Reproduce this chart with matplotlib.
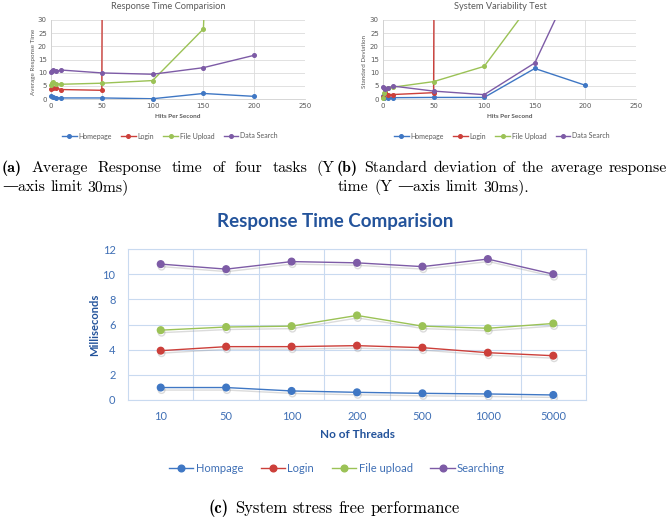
import matplotlib
matplotlib.use('Agg')
import matplotlib.pyplot as plt
import matplotlib.patheffects as pe
from matplotlib.lines import Line2D

W, H = 669, 520

# (a) average response time vs hits per second
home_a_x = [0, 2, 5, 10, 50, 100, 150, 200]
home_a_y = [1.0, 0.6, 0.5, 0.4, 0.4, 0.1, 2.1, 1.0]
login_a_x = [0, 2, 5, 10, 50, 100]
login_a_y = [3.9, 4.2, 4.2, 3.6, 3.3, 5000]
upload_a_x = [0, 1, 2, 5, 10, 50, 100, 150, 200]
upload_a_y = [5.5, 5.9, 6.6, 5.8, 5.6, 6.0, 7.0, 26.6, 500]
search_a_x = [0, 1, 2, 5, 10, 50, 100, 150, 200]
search_a_y = [10.4, 10.8, 10.9, 10.5, 11.0, 9.9, 9.4, 11.9, 16.6]

# (b) standard deviation vs hits per second
home_b_x = [0, 1, 5, 10, 50, 100, 150, 200]
home_b_y = [1.0, 0.4, 0.4, 0.5, 0.6, 0.6, 11.6, 5.2]
login_b_x = [0, 2, 5, 10, 50, 100]
login_b_y = [0.8, 2.6, 1.7, 1.7, 2.4, 5000]
upload_b_x = [0, 1, 2, 5, 10, 50, 100, 150]
upload_b_y = [0.5, 2.4, 3.4, 4.0, 4.5, 6.6, 12.4, 38.3]
search_b_x = [0, 1, 2, 5, 10, 50, 100, 150, 200]
search_b_y = [4.7, 4.0, 3.8, 4.2, 4.9, 3.0, 1.65, 13.7, 54.5]

small_labels = ['Homepage', 'Login', 'File Upload', 'Data Search']

# (c) stress free performance vs threads
threads = ['10', '50', '100', '200', '500', '1000', '5000']
hompage = [0.99, 0.99, 0.72, 0.61, 0.53, 0.48, 0.40]
login = [3.92, 4.24, 4.24, 4.32, 4.16, 3.76, 3.52]
file_upload = [5.55, 5.80, 5.87, 6.72, 5.87, 5.70, 6.08]
searching = [10.8, 10.4, 11.0, 10.9, 10.6, 11.2, 10.0]
big_labels = ['Hompage', 'Login', 'File upload', 'Searching']

colors = ['#3f77c4', '#cc3f3a', '#9bc256', '#7d5ba6']
gray = '#595959'

fig = plt.figure(figsize=(W / 100, H / 100), dpi=100)


def box(l, t, r, b):
    return [l / W, 1 - b / H, (r - l) / W, (b - t) / H]


def fx(px):
    return px / W


def fy(py):
    return 1 - py / H


def small_panel(rect, series, title, title_x, ylabel, ylabel_x, leg_x):
    ax = fig.add_axes(rect)
    for (xs, ys), c, lab in zip(series, colors, small_labels):
        ax.plot(xs, ys, color=c, lw=1.0, label=lab, zorder=3)
        mx = [x for x, y in zip(xs, ys) if y <= 30]
        my = [y for y in ys if y <= 30]
        ax.plot(mx, my, ls='none', marker='o', ms=2.6, color=c, clip_on=False, zorder=4)
    ax.set_xlim(0, 250)
    ax.set_ylim(0, 30)
    ax.set_xticks(range(0, 251, 50))
    ax.set_yticks(range(0, 31, 5))
    ax.grid(True, color='#dcdcdc', lw=0.6)
    ax.set_axisbelow(True)
    for s in ['top', 'right']:
        ax.spines[s].set_visible(False)
    for s in ['left', 'bottom']:
        ax.spines[s].set_color('#d0d0d0')
        ax.spines[s].set_linewidth(0.6)
    ax.tick_params(length=0, labelsize=5, colors=gray, pad=3)
    fig.text(fx(title_x), fy(6.5), title, fontsize=6.7, color=gray,
             ha='center', va='center', family='Lato')
    fig.text(fx(ylabel_x), fy(62), ylabel, fontsize=4.5, color=gray,
             rotation=90, ha='center', va='center', family='Lato')
    fig.text(fx((rect[0] * W + (rect[0] + rect[2]) * W) / 2), fy(117), 'Hits Per Second',
             fontsize=4.6, color=gray, weight='bold', ha='center', va='center', family='Lato')
    handles = [Line2D([], [], color=c, lw=1.0, marker='o', ms=2.6) for c in colors]
    fig.legend(handles, small_labels, loc='center', bbox_to_anchor=(fx(leg_x), fy(136)),
               ncol=4, frameon=False, handlelength=2.1, handletextpad=0.3,
               columnspacing=1.3, labelcolor=gray, prop={'family': 'Lato', 'size': 5})
    return ax


small_panel(box(51, 20, 305, 99),
            [(home_a_x, home_a_y), (login_a_x, login_a_y),
             (upload_a_x, upload_a_y), (search_a_x, search_a_y)],
            'Response Time Comparision', 168, 'Average Response Time', 33, 170)
small_panel(box(383, 20, 636, 99),
            [(home_b_x, home_b_y), (login_b_x, login_b_y),
             (upload_b_x, upload_b_y), (search_b_x, search_b_y)],
            'System Variability Test', 500, 'Standard Deviation', 365, 502)

# panel (c)
blue_txt = '#3f6fb5'
dark_blue = '#23539b'
axc = fig.add_axes(box(128, 249, 586, 400))
pos = list(range(len(threads)))
shadow = [pe.SimpleLineShadow(offset=(0.6, -1.8), shadow_color='#8a8a8a', alpha=0.3),
          pe.Normal()]
for ys, c, lab in zip([hompage, login, file_upload, searching], colors, big_labels):
    axc.plot(pos, ys, color=c, lw=1.0, marker='o', ms=4.8, mec=c, label=lab,
             path_effects=shadow, zorder=3)
axc.set_xlim(-0.5, len(threads) - 0.5)
axc.set_ylim(0, 12)
axc.set_yticks(range(0, 13, 2))
axc.set_xticks(pos)
axc.set_xticklabels(threads)
axc.set_xticks([p + 0.5 for p in pos[:-1]], minor=True)
axc.grid(True, axis='y', which='major', color='#c9daf0', lw=0.8)
axc.grid(True, axis='x', which='minor', color='#c9daf0', lw=0.8)
axc.set_axisbelow(True)
for s in axc.spines.values():
    s.set_color('#c9daf0')
    s.set_linewidth(0.8)
axc.tick_params(which='both', length=0)
axc.tick_params(axis='y', labelsize=8, colors=blue_txt, pad=9)
axc.tick_params(axis='x', labelsize=8, colors=blue_txt, pad=8)
for t in axc.get_xticklabels() + axc.get_yticklabels():
    t.set_family('Lato')

fig.text(fx(335), fy(222), 'Response Time Comparision', fontsize=13.5, weight='bold',
         color=dark_blue, ha='center', va='center', family='Lato')
fig.text(fx(95), fy(325), 'Milliseconds', fontsize=8, weight='bold', color=dark_blue,
         rotation=90, ha='center', va='center', family='Lato')
fig.text(fx(357), fy(435), 'No of Threads', fontsize=8.5, weight='bold', color=dark_blue,
         ha='center', va='center', family='Lato')
handles = [Line2D([], [], color=c, lw=1.0, marker='o', ms=4.8) for c in colors]
fig.legend(handles, big_labels, loc='center', bbox_to_anchor=(fx(337), fy(468)),
           ncol=4, frameon=False, handlelength=2.2, handletextpad=0.2,
           columnspacing=1.6, labelcolor=blue_txt, prop={'family': 'Lato', 'size': 8})

# captions
rend = fig.canvas.get_renderer()


def caption_line(words, x0, y, x1=None, bold_first=True, size=11.4):
    texts = []
    for i, w in enumerate(words):
        fam = ['cmb10', 'DejaVu Serif'] if (bold_first and i == 0) else ['cmr10', 'DejaVu Serif']
        texts.append(fig.text(0, fy(y), w, fontsize=size, family=fam, va='center'))
    widths = [t.get_window_extent(rend).width for t in texts]
    gap = size * 0.333 * 100 / 72
    if x1 is not None and len(words) > 1:
        gap = (x1 - x0 - sum(widths)) / (len(words) - 1)
    x = x0
    for t, wd in zip(texts, widths):
        t.set_x(fx(x))
        x += wd + gap


caption_line(['(a)', 'Average', 'Response', 'time', 'of', 'four', 'tasks', '(Y'], 2, 168, 335)
caption_line(['—axis', 'limit', '30ms)'], 2, 187, bold_first=False)
caption_line(['(b)', 'Standard', 'deviation', 'of', 'the', 'average', 'response'], 337, 168, 667)
caption_line(['time', '(Y', '—axis', 'limit', '30ms).'], 338, 187, bold_first=False)
caption_line(['(c)', 'System', 'stress', 'free', 'performance'], 209, 508, size=12)

fig.savefig('out.png', dpi=100)
